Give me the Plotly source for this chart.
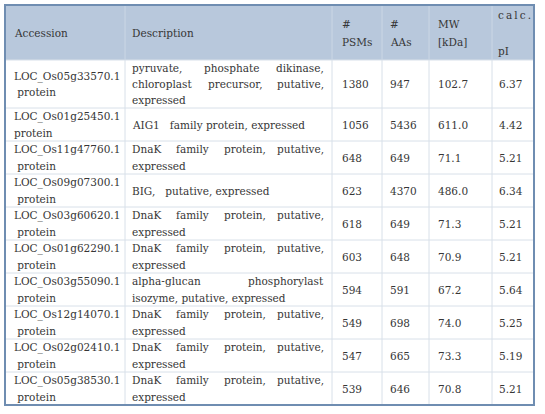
import plotly.graph_objects as go

# ---------------- data ----------------
headers = [["Accession"], ["Description"], ["#", "PSMs"], ["#", "AAs"], ["MW", "[kDa]"],
           ["c\u2009a\u2009l\u2009c\u2009.", "", "pI"]]

accession = ["LOC_Os05g33570.1", "LOC_Os01g25450.1", "LOC_Os11g47760.1", "LOC_Os09g07300.1",
             "LOC_Os03g60620.1", "LOC_Os01g62290.1", "LOC_Os03g55090.1", "LOC_Os12g14070.1",
             "LOC_Os02g02410.1", "LOC_Os05g38530.1"]
accession_suffix = ["\u00a0protein", "protein", "\u00a0protein", "\u00a0protein", "\u00a0protein",
                    "\u00a0protein", "\u00a0protein", "\u00a0protein", "\u00a0protein", "\u00a0protein"]

description_lines = [
    ["pyruvate, phosphate dikinase,", "chloroplast precursor, putative,", "expressed"],
    ["AIG1\u00a0\u00a0\u00a0family protein, expressed"],
    ["DnaK family protein, putative,", "expressed"],
    ["BIG,\u00a0\u00a0\u00a0putative, expressed"],
    ["DnaK family protein, putative,", "expressed"],
    ["DnaK family protein, putative,", "expressed"],
    ["alpha-glucan phosphorylast", "isozyme, putative, expressed"],
    ["DnaK family protein, putative,", "expressed"],
    ["DnaK family protein, putative,", "expressed"],
    ["DnaK family protein, putative,", "expressed"],
]

psms = [1380, 1056, 648, 623, 618, 603, 594, 549, 547, 539]
aas = [947, 5436, 649, 4370, 649, 648, 591, 698, 665, 646]
mw = [102.7, 611.0, 71.1, 486.0, 71.3, 70.9, 67.2, 74.0, 73.3, 70.8]
pi = [6.37, 4.42, 5.21, 6.34, 5.21, 5.21, 5.64, 5.25, 5.19, 5.21]

# ---------------- layout constants ----------------
W, H = 545, 414
col_edges = [5, 125, 332, 382, 429, 492, 534]
text_x = [12, 130, 340, 388, 436, 497]
desc_right = 326
table_top = 5
header_h = 55
FONT = "DejaVu Serif"
FS = 10.5
TXT = "#363636"
HEADER_FILL = "#b8c8dc"
GRID = "#d8e0e9"
HEADER_GRID = "#cbd7e5"
BORDER = "#6f8db1"

# DejaVu Serif glyph widths (per 1000 em) for justification
TW = {' ': 318, ',': 318, '-': 338, '.': 318, '_': 500, '\u00a0': 318}
for ch in "0123456789": TW[ch] = 636
TW.update(dict(zip("abcdefghijklmnopqrstuvwxyz",
                   [596, 640, 560, 640, 592, 370, 640, 644, 320, 310, 606, 320, 948, 644, 602, 640, 640,
                    478, 513, 402, 644, 565, 856, 564, 565, 527])))
TW.update(dict(zip("ABCDEFGHIJKLMNOPQRSTUVWXYZ",
                   [722, 735, 734, 802, 730, 694, 775, 872, 372, 373, 747, 667, 1000, 861, 787, 702, 787,
                    748, 685, 682, 812, 722, 1028, 710, 682, 710])))


def text_w(s):
    return sum(TW.get(c, 600) for c in s) * FS / 1000.0


fig = go.Figure()
fig.add_trace(go.Scatter(x=[0, W], y=[0, H], mode="markers", marker=dict(opacity=0),
                         hoverinfo="skip", showlegend=False))

shapes = []
annotations = []


def add_text(x, y, s, anchor="left"):
    annotations.append(dict(x=x, y=y, xref="x", yref="y", text=s, showarrow=False,
                            xanchor=anchor, yanchor="middle",
                            font=dict(family=FONT, size=FS, color=TXT)))


# row heights from the number of wrapped lines
n_rows = len(accession)
row_lines = [max(2, len(description_lines[i])) for i in range(n_rows)]
row_h = [15 * n + 3 for n in row_lines]
row_tops = []
y = table_top + header_h
for h in row_h:
    row_tops.append(y)
    y += h
table_bottom = y

# header fill
shapes.append(dict(type="rect", xref="x", yref="y", x0=col_edges[0], x1=col_edges[-1],
                   y0=table_top, y1=table_top + header_h, fillcolor=HEADER_FILL, line=dict(width=0),
                   layer="below"))

# grid: horizontal lines
for t in row_tops:
    shapes.append(dict(type="line", xref="x", yref="y", x0=col_edges[0], x1=col_edges[-1],
                       y0=t, y1=t, line=dict(color=GRID, width=1)))
# grid: vertical lines
for cx in col_edges[1:-1]:
    shapes.append(dict(type="line", xref="x", yref="y", x0=cx, x1=cx,
                       y0=table_top, y1=table_top + header_h, line=dict(color=HEADER_GRID, width=1)))
    shapes.append(dict(type="line", xref="x", yref="y", x0=cx, x1=cx,
                       y0=table_top + header_h, y1=table_bottom, line=dict(color=GRID, width=1)))
# outer border
shapes.append(dict(type="rect", xref="x", yref="y", x0=col_edges[0], x1=col_edges[-1],
                   y0=table_top, y1=table_bottom, line=dict(color=BORDER, width=2)))

# header text
hmid = table_top + header_h / 2
for ci, lines in enumerate(headers):
    n = len(lines)
    sp = 18
    for li, s in enumerate(lines):
        if s:
            add_text(text_x[ci] if ci < 5 else text_x[ci] - 1, hmid + (li - (n - 1) / 2) * sp, s)


def cell_lines(top, h, nmax, lines, x, justify_width=None):
    sp = h / nmax
    mid = top + h / 2
    n = len(lines)
    for li, s in enumerate(lines):
        yy = mid + (li - (n - 1) / 2) * sp
        if justify_width is not None and li < n - 1:
            words = s.split(" ")
            widths = [text_w(w) for w in words]
            gap = (justify_width - sum(widths)) / (len(words) - 1)
            xx = x
            for wi, w in enumerate(words):
                if wi == len(words) - 1:
                    add_text(x + justify_width, yy, w, "right")
                else:
                    add_text(xx, yy, w)
                xx += widths[wi] + gap
        else:
            add_text(x, yy, s)


for i in range(n_rows):
    top, h, nm = row_tops[i], row_h[i], row_lines[i]
    cell_lines(top, h, nm, [accession[i], accession_suffix[i]], text_x[0])
    cell_lines(top, h, nm, description_lines[i], text_x[1], justify_width=desc_right - text_x[1])
    cell_lines(top, h, nm, [str(psms[i])], text_x[2])
    cell_lines(top, h, nm, [str(aas[i])], text_x[3])
    cell_lines(top, h, nm, [f"{mw[i]:.1f}"], text_x[4])
    cell_lines(top, h, nm, [f"{pi[i]:.2f}"], text_x[5])

fig.update_layout(
    width=W, height=H, margin=dict(l=0, r=0, t=0, b=0),
    paper_bgcolor="white", plot_bgcolor="white",
    xaxis=dict(range=[0, W], visible=False, fixedrange=True),
    yaxis=dict(range=[H, 0], visible=False, fixedrange=True),
    shapes=shapes, annotations=annotations, showlegend=False,
)
fig.write_html("out.html", config={"displayModeBar": False},
               post_script="document.body.style.margin='0';document.body.style.padding='0';")
